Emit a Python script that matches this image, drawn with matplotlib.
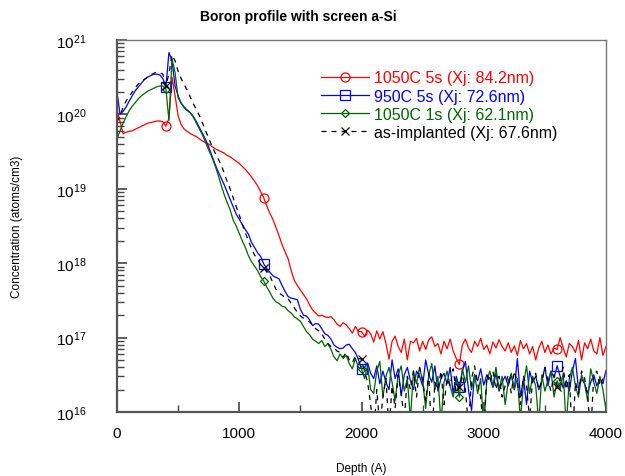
"""
Boron SIMS profile with screen a-Si: four anneal conditions, log-scale
concentration vs depth. Values read off the reference plot (log10 of
atoms/cm3 on a 25 A depth grid).
"""

import matplotlib
matplotlib.use("Agg")
import matplotlib.pyplot as plt
from matplotlib.ticker import MultipleLocator, LogLocator, NullFormatter
import numpy as np

plt.rcParams["font.family"] = ["Liberation Sans", "DejaVu Sans"]

DEPTH_STEP = 25
depth = np.arange(0, 4001, DEPTH_STEP)

# log10(concentration) for each condition, one value per depth point
red_log = [
    # 0 .. 475
    20.07, 19.90, 19.74, 19.76, 19.77, 19.78, 19.80, 19.82, 19.84, 19.86,
    19.88, 19.89, 19.90, 19.91, 19.91, 19.90, 19.84, 19.95, 20.50, 20.25,
    # 500 .. 2000
    19.98, 19.86, 19.80, 19.77, 19.74, 19.72, 19.70, 19.67, 19.64, 19.62,
    19.60, 19.57, 19.54, 19.52, 19.50, 19.48, 19.45, 19.43, 19.40, 19.37,
    19.34, 19.30, 19.26, 19.21, 19.16, 19.10, 19.04, 18.96, 18.88, 18.77,
    18.67, 18.59, 18.48, 18.37, 18.25, 18.15, 18.06, 17.90, 17.77, 17.70,
    17.64, 17.58, 17.52, 17.44, 17.37, 17.33, 17.29, 17.30, 17.28, 17.27,
    17.28, 17.24, 17.18, 17.15, 17.20, 17.17, 17.12, 17.06, 17.15, 17.08,
    17.08,
    # 2025 .. 4000
    17.02, 17.10, 17.05, 16.94, 17.09, 16.98, 17.08, 16.92, 16.71, 16.95,
    17.02, 16.88, 16.80, 16.98, 16.70, 16.95,
    16.93, 16.99, 16.82, 16.95, 16.84, 16.97, 17.01, 16.88, 16.92, 16.78,
    16.95, 16.85, 16.98, 16.82, 16.72, 16.64,
    16.90, 16.98, 16.86, 16.80, 16.95, 16.88, 16.99, 16.84, 16.90, 16.78,
    16.94, 16.86, 16.97, 16.88, 16.82, 16.93,
    16.80, 16.89, 16.76, 16.96, 16.85, 16.92, 16.78, 16.88, 16.70, 16.86,
    16.95, 16.80, 16.90, 16.78, 16.86, 16.84,
    17.00, 16.86, 16.74, 16.92, 16.88, 16.80, 16.96, 16.70, 16.93, 16.85,
    16.98, 16.82, 16.78, 17.00, 16.76, 16.88,
]

blue_log = [
    20.30, 20.00, 20.04, 20.10, 20.18, 20.25, 20.32, 20.37, 20.42, 20.47,
    20.50, 20.52, 20.54, 20.54, 20.53, 20.48, 20.37, 20.83, 20.72, 20.38,
    20.25, 20.15, 20.09, 20.05, 20.02, 19.97, 19.90, 19.82, 19.74, 19.66,
    19.56, 19.45, 19.34, 19.24, 19.15, 19.06, 18.96, 18.86, 18.76, 18.66,
    18.59, 18.52, 18.45, 18.39, 18.28, 18.21, 18.14, 18.09, 17.99, 17.93,
    17.88, 17.83, 17.81, 17.79, 17.70, 17.62, 17.55, 17.53, 17.52, 17.51,
    17.38, 17.30, 17.29, 17.24, 17.16, 17.19, 17.18, 17.12, 17.05, 17.03,
    16.98, 16.90, 16.87, 16.85, 16.86, 16.90, 16.91, 16.85, 16.80, 16.70,
    16.58,
    16.60, 16.66, 16.52, 16.45, 16.62, 16.38, 16.55, 16.40, 16.30, 16.70,
    16.45, 16.58, 16.22, 16.50, 16.60, 16.42,
    16.30, 16.55, 16.48, 16.35, 16.70, 16.50, 16.40, 16.62, 16.28, 16.45,
    16.52, 16.38, 16.60, 16.25, 16.48, 16.34,
    16.55, 16.68, 16.30, 16.02, 16.50, 16.42, 16.58, 16.36, 16.50, 16.45,
    16.33, 16.52, 16.28, 16.40, 16.48, 16.35,
    16.50, 16.30, 16.72, 16.20, 16.45, 16.10, 16.55, 16.40, 16.48, 16.30,
    16.42, 16.60, 16.35, 16.55, 16.46, 16.62,
    16.48, 16.32, 16.42, 16.28, 16.55, 16.72, 16.30, 16.45, 16.38, 16.25,
    16.40, 16.50, 16.35, 16.45, 16.38, 16.56,
]

green_log = [
    19.67, 19.78, 19.88, 19.97, 20.05, 20.11, 20.16, 20.21, 20.25, 20.28,
    20.31, 20.33, 20.35, 20.37, 20.38, 20.38, 20.34, 19.92, 20.75, 20.56,
    20.22, 20.15, 20.10, 20.06, 20.02, 19.96, 19.88, 19.80, 19.72, 19.62,
    19.52, 19.43, 19.32, 19.20, 19.06, 18.93, 18.82, 18.72, 18.58, 18.50,
    18.40, 18.30, 18.21, 18.10, 18.02, 17.96, 17.90, 17.82, 17.76, 17.68,
    17.61, 17.53, 17.48, 17.46, 17.42, 17.41, 17.36, 17.33, 17.28, 17.25,
    17.22, 17.15, 17.08, 17.04, 16.98, 16.95, 16.92, 16.96, 16.88, 16.92,
    16.84, 16.74, 16.69, 16.78, 16.72, 16.76, 16.65, 16.58, 16.72, 16.60,
    16.58,
    16.45, 16.62, 16.30, 16.25, 16.55, 16.68, 16.20, 16.48, 16.60, 16.40,
    16.15, 16.50, 16.62, 16.28, 16.45, 15.90,
    16.55, 16.38, 16.60, 16.42, 16.05, 16.50, 16.65, 16.30, 16.48, 15.85,
    16.40, 16.55, 16.35, 16.20, 16.45, 16.20,
    16.58, 16.40, 16.62, 16.30, 16.50, 16.25, 16.45, 15.80, 16.42, 16.55,
    16.35, 16.60, 16.30, 16.48, 16.10, 16.40,
    16.52, 16.30, 16.45, 15.90, 16.38, 16.62, 16.25, 16.48, 16.35, 15.85,
    16.50, 16.28, 16.42, 16.55, 16.20, 16.42,
    16.30, 16.52, 15.80, 16.45, 16.60, 16.35, 16.20, 16.50, 16.38, 16.15,
    16.58, 16.40, 16.25, 16.48, 16.30, 16.02,
]

black_log = [
    19.90, 19.98, 20.10, 20.18, 20.24, 20.30, 20.36, 20.41, 20.44, 20.47,
    20.50, 20.53, 20.55, 20.57, 20.56, 20.54, 20.38, 20.55, 20.80, 20.72,
    20.58, 20.48, 20.40, 20.32, 20.23, 20.14, 20.06, 19.98, 19.88, 19.78,
    19.68, 19.58, 19.49, 19.41, 19.33, 19.22, 19.10, 19.00, 18.88, 18.76,
    18.65, 18.52, 18.41, 18.30, 18.20, 18.11, 18.05, 17.98, 17.94, 17.88,
    17.83, 17.74, 17.65, 17.60, 17.57, 17.54, 17.52, 17.46, 17.40, 17.34,
    17.29, 17.26, 17.23, 17.21, 17.17, 17.12, 17.09, 17.05, 16.98, 16.92,
    16.88, 16.86, 16.82, 16.80, 16.74, 16.80, 16.70, 16.66, 16.75, 16.72,
    16.71,
    16.55, 16.40, 16.10, 15.70, 16.30, 15.80, 16.20, 16.45, 15.75, 16.35,
    16.05, 16.50, 16.25, 15.90, 16.48, 16.30,
    16.55, 16.20, 16.60, 16.42, 16.15, 16.52, 15.60, 16.40, 16.30, 16.55,
    16.10, 16.45, 16.35, 16.58, 16.25, 16.34,
    16.50, 16.30, 15.80, 16.45, 16.62, 16.38, 16.20, 15.70, 16.50, 16.40,
    16.55, 16.30, 16.48, 16.20, 16.35, 16.50,
    16.25, 16.55, 16.40, 16.10, 16.48, 16.35, 15.90, 16.45, 16.52, 16.30,
    16.40, 16.60, 16.42, 16.28, 16.50, 16.34,
    16.45, 16.60, 16.30, 16.50, 15.60, 16.40, 16.25, 16.55, 16.45, 16.20,
    15.70, 16.50, 16.55, 16.35, 16.45, 16.40,
]

labels = [
    "1050C 5s (Xj: 84.2nm)",
    "950C 5s (Xj: 72.6nm)",
    "1050C 1s (Xj: 62.1nm)",
    "as-implanted (Xj: 67.6nm)",
]

series = [
    (red_log, "#ff0000", "-", "o", 6.5),
    (blue_log, "#0000ff", "-", "s", 6.5),
    (green_log, "#006400", "-", "D", 4.5),
    (black_log, "#000000", (0, (4, 4)), "x", 6),
]

fig = plt.figure(figsize=(6.25, 4.77), dpi=100)
ax = fig.add_axes([0.1872, 0.1342, 0.7824, 0.780])

for (vals, color, ls, marker, ms), label in zip(series, labels):
    conc = 10.0 ** np.asarray(vals)
    ax.plot(depth, conc, color=color, linestyle=ls, linewidth=0.9,
            marker=marker, markersize=ms, markerfacecolor="none",
            markeredgecolor=color, markeredgewidth=0.9,
            markevery=(16, 32), label=label)

ax.set_yscale("log")
ax.set_xlim(0, 4000)
ax.set_ylim(1e16, 1e21)

ax.xaxis.set_major_locator(MultipleLocator(1000))
ax.xaxis.set_minor_locator(MultipleLocator(500))
ax.yaxis.set_major_locator(LogLocator(base=10, numticks=10))
ax.yaxis.set_minor_locator(LogLocator(base=10, subs=np.arange(2, 10), numticks=10))
ax.yaxis.set_minor_formatter(NullFormatter())

ax.tick_params(which="both", direction="in", top=False, right=False,
               labelsize=11, color="#444444")
ax.tick_params(which="major", length=7, width=1.2)
ax.tick_params(which="minor", length=5, width=1.0)
ax.tick_params(axis="x", pad=10)
ax.tick_params(axis="y", pad=22)

for side in ["left", "bottom"]:
    ax.spines[side].set_linewidth(1.6)
    ax.spines[side].set_color("#555555")
for side in ["top", "right"]:
    ax.spines[side].set_linewidth(1.0)
    ax.spines[side].set_color("#777777")

ax.set_xlabel("Depth (A)", fontsize=8.5, labelpad=16)
ax.set_ylabel("Concentration (atoms/cm3)", fontsize=8.5, labelpad=24)
fig.text(298 / 625, 1 - 17 / 477, "Boron profile with screen a-Si",
         fontsize=10, fontweight="bold", ha="center", va="center")

leg = ax.legend(loc="upper left", bbox_to_anchor=(0.405, 0.935), frameon=False,
                fontsize=11.5, handlelength=3.0, handletextpad=0.3,
                labelspacing=0.2, borderaxespad=0.0)
for text, (_, color, _, _, _) in zip(leg.get_texts(), series):
    text.set_color(color)

fig.savefig("out.png", dpi=100)
